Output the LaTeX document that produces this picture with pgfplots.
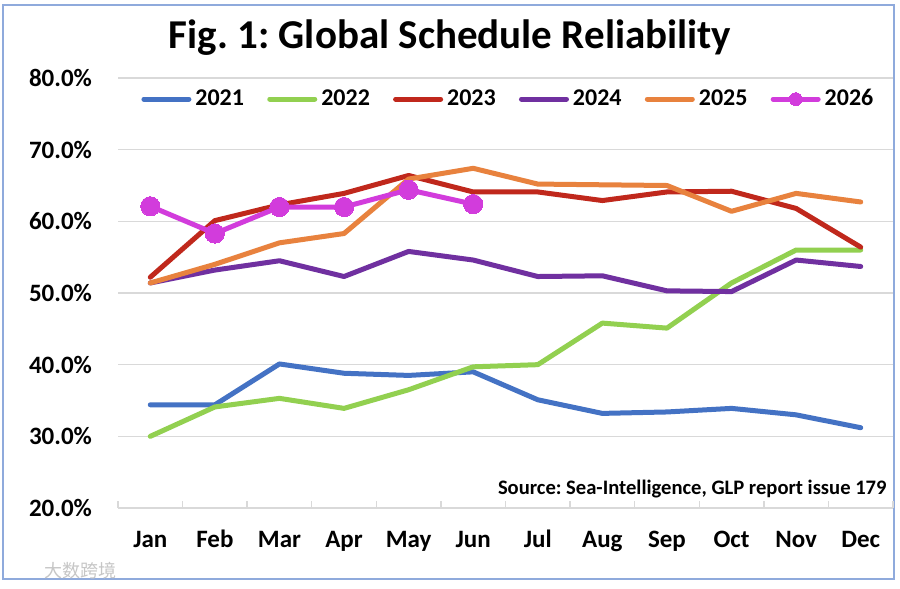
\documentclass[border=0pt]{standalone}
\usepackage{pgfplots}
\pgfplotsset{compat=1.18}
\usepackage{fontspec}
\setmainfont{Carlito}
\newfontfamily\cjk{Noto Sans CJK SC}
\frenchspacing
\definecolor{c21}{HTML}{4472C4}
\definecolor{c22}{HTML}{92D050}
\definecolor{c23}{HTML}{C0281C}
\definecolor{c24}{HTML}{7030A0}
\definecolor{c25}{HTML}{E8823E}
\definecolor{c26}{HTML}{D23CDC}
\definecolor{gridc}{HTML}{D9D9D9}
\definecolor{borderc}{HTML}{8FAADC}
\begin{document}
\begin{tikzpicture}
\useasboundingbox (0,0) rectangle (450pt,294.5pt);
\fill[white] (0,0) rectangle (450pt,294.5pt);
\draw[borderc, line width=0.6pt] (1.5pt,5pt) rectangle (447pt,292pt);
\begin{axis}[
  at={(59pt,40.5pt)}, anchor=south west,
  scale only axis, width=387.5pt, height=215pt,
  xmin=-0.5, xmax=11.5, ymin=20, ymax=80,
  xtick={0,...,11},
  xticklabels={Jan,Feb,Mar,Apr,May,Jun,Jul,Aug,Sep,Oct,Nov,Dec},
  minor xtick={-0.5,0.5,...,11.5},
  ytick={20,30,...,80},
  yticklabels={20.0\%,30.0\%,40.0\%,50.0\%,60.0\%,70.0\%,80.0\%},
  ymajorgrids, major grid style={gridc, line width=0.6pt},
  axis lines*=left,
  x axis line style={gridc, line width=0.7pt, -},
  y axis line style={draw=none},
  major tick length=0pt,
  minor tick length=3.5pt,
  tick align=inside,
  minor tick style={gridc, line width=0.7pt},
  ticklabel style={font=\bfseries\fontsize{12.5}{14}\selectfont, black},
  xticklabel style={anchor=base, yshift=-20pt},
  yticklabel style={anchor=east, xshift=-9.5pt},
  legend style={at={(0.505,0.951)}, anchor=center, draw=none, fill=none,
    legend columns=6, inner sep=0pt,
    /tikz/every even column/.append style={column sep=9.6pt},
    font=\bfseries\fontsize{12}{14}\selectfont},
  legend image code/.code={\draw[mark repeat=2,mark phase=2,#1,mark size=3.2pt] plot coordinates {(0pt,0pt) (11.25pt,0pt) (22.5pt,0pt)};},
  every axis plot/.append style={line width=2.5pt, line join=round, line cap=round},
  clip=false,
]
\addplot[c21] coordinates {(0,34.4)(1,34.4)(2,40.1)(3,38.8)(4,38.5)(5,39.0)(6,35.1)(7,33.2)(8,33.4)(9,33.9)(10,33.0)(11,31.2)};
\addlegendentry{2021}
\addplot[c22] coordinates {(0,30.0)(1,34.1)(2,35.3)(3,33.9)(4,36.5)(5,39.7)(6,40.0)(7,45.8)(8,45.1)(9,51.4)(10,56.0)(11,56.0)};
\addlegendentry{2022}
\addplot[c23] coordinates {(0,52.2)(1,60.1)(2,62.3)(3,63.9)(4,66.4)(5,64.1)(6,64.1)(7,62.9)(8,64.1)(9,64.2)(10,61.8)(11,56.4)};
\addlegendentry{2023}
\addplot[c24] coordinates {(0,51.4)(1,53.2)(2,54.5)(3,52.3)(4,55.8)(5,54.6)(6,52.3)(7,52.4)(8,50.3)(9,50.2)(10,54.6)(11,53.7)};
\addlegendentry{2024}
\addplot[c25] coordinates {(0,51.4)(1,54.0)(2,57.0)(3,58.3)(4,65.9)(5,67.4)(6,65.2)(7,65.1)(8,65.0)(9,61.4)(10,63.9)(11,62.7)};
\addlegendentry{2025}
\addplot[c26, mark=*, mark size=4.8pt, mark options={solid, fill=c26, draw=c26, line width=0pt}] coordinates {(0,62.1)(1,58.3)(2,62.0)(3,62.0)(4,64.4)(5,62.4)};
\addlegendentry{2026}
\end{axis}
\node[anchor=base, font=\bfseries\fontsize{20.5}{24}\selectfont] at (225pt,270pt) {Fig. 1: Global Schedule Reliability};
\node[anchor=base east, inner sep=0pt, font=\bfseries\fontsize{10.3}{12}\selectfont] at (443.5pt,47pt) {Source: Sea-Intelligence, GLP report issue 179};
\node[anchor=west, inner sep=0pt, text=gray!45, font=\cjk\fontsize{9}{11}\selectfont] at (22pt,9pt) {大数跨境};
\end{tikzpicture}
\end{document}
